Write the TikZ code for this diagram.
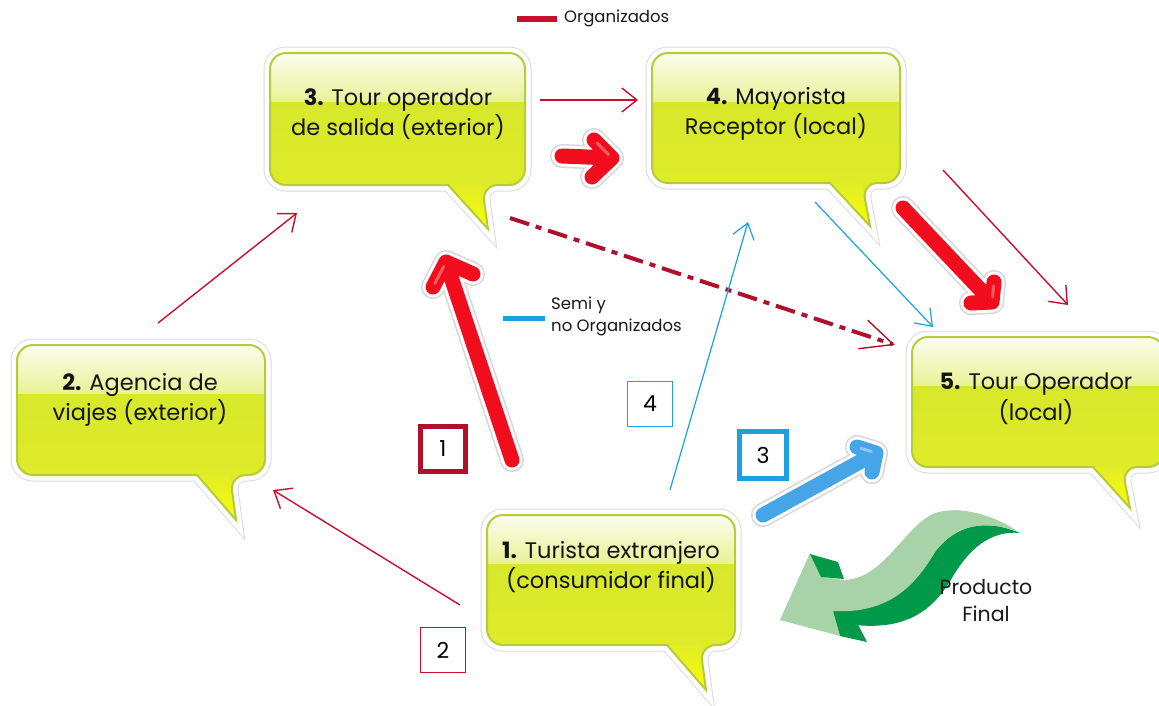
\documentclass[tikz,border=0pt]{standalone}
\usepackage{fontspec}
\setmainfont{Poppins}
\usetikzlibrary{arrows.meta}
\definecolor{orgred}{HTML}{C8102E}
\definecolor{ddred}{HTML}{B0102C}
\definecolor{semiblue}{HTML}{1BA1E2}
\definecolor{bred}{HTML}{F20D1E}
\definecolor{bredlight}{HTML}{FF9CA2}
\definecolor{bblue}{HTML}{45A5E6}
\definecolor{bbluelight}{HTML}{C5E8FB}
\definecolor{bodymid}{HTML}{D3E52E}
\definecolor{bodybot}{HTML}{E2ED26}
\definecolor{bborder}{HTML}{B4CC3C}
\definecolor{lgreen}{HTML}{A8D3A8}
\definecolor{dgreen}{HTML}{00994A}
\newcommand{\bubble}[8]{%
 \draw[line width=13pt, black!14, rounded corners=16pt] (#1,#2) -- (#3,#2) -- (#3,#4) -- (#6,#4) [sharp corners] -- (#7,#8) -- (#5,#4) [rounded corners=16pt] -- (#1,#4) -- cycle;
 \draw[line width=11pt, white, rounded corners=16pt] (#1,#2) -- (#3,#2) -- (#3,#4) -- (#6,#4) [sharp corners] -- (#7,#8) -- (#5,#4) [rounded corners=16pt] -- (#1,#4) -- cycle;
 \shade[top color=bodymid, bottom color=bodybot, rounded corners=16pt] (#1,#2) -- (#3,#2) -- (#3,#4) -- (#6,#4) [sharp corners] -- (#7,#8) -- (#5,#4) [rounded corners=16pt] -- (#1,#4) -- cycle;
 \shade[top color=bodybot, bottom color=yellow!85!bodybot] (#5,#4) -- (#6,#4) -- (#7,#8) -- cycle;
 \begin{scope}
 \clip[rounded corners=16pt] (#1,#2) -- (#3,#2) -- (#3,#4) -- (#1,#4) -- cycle;
 \shade[top color=white!92!bodymid, bottom color=white!50!bodymid] (#1,#2) rectangle (#3,{#2+0.37*(#4-#2)});
 \end{scope}
 \draw[line width=2pt, bborder, rounded corners=16pt] (#1,#2) -- (#3,#2) -- (#3,#4) -- (#6,#4) [sharp corners] -- (#7,#8) -- (#5,#4) [rounded corners=16pt] -- (#1,#4) -- cycle;
}
\newcommand{\garrow}[6]{%
 \draw[line width=24pt, black!16, line cap=round, line join=round] (#1) -- (#2) (#3) -- (#2) -- (#4);
 \draw[line width=21pt, white, line cap=round, line join=round] (#1) -- (#2) (#3) -- (#2) -- (#4);
 \draw[line width=15pt, #5, line cap=round, line join=round] (#1) -- (#2) (#3) -- (#2) -- (#4);
 \draw[line width=3pt, #6, opacity=0.55, line cap=round, shorten >=5pt, shorten <=4pt] (#3) -- (#2);
}
\tikzset{
 btext/.style={align=center, font=\fontsize{22.5}{30.5}\selectfont, text=black!92, inner sep=0pt},
 thinred/.style={orgred, line width=1.4pt, -{Straight Barb[length=15pt, width=24pt]}},
 thinblue/.style={semiblue, line width=1.2pt, -{Straight Barb[length=15pt, width=22pt]}},
 numbox/.style={draw, fill=white, minimum width=#1, minimum height=#1, font=\fontsize{22}{24}\selectfont, inner sep=0pt},
 legtext/.style={font=\fontsize{16.5}{22}\selectfont, text=black!90, align=left, inner sep=0pt, anchor=west}
}
\begin{document}
\begin{tikzpicture}[x=1pt, y=-1pt]
\useasboundingbox (0,0) rectangle (1159,705);
\fill[white] (0,0) rectangle (1159,705);

% speech bubbles
\bubble{270}{53}{525}{185}{448}{482}{488}{229}
\bubble{652}{53}{900}{183}{830}{862}{870}{226}
\bubble{912}{337}{1164}{467}{1093}{1122}{1130}{508}
\bubble{487}{515}{735}{645}{667}{700}{706}{690}
\bubble{17}{345}{265}{475}{197}{230}{236}{520}

\node[btext] (n3) at (398,114) {\textbf{3.} Tour operador\\de salida (exterior)};
\node[btext] (n4) at (776,114) {\textbf{4.} Mayorista\\Receptor (local)};
\node[btext] (n5) at (1036,399) {\textbf{5.} Tour Operador\\(local)};
\node[btext] (n1) at (611,567) {\textbf{1.} Turista extranjero\\(consumidor final)};
\node[btext] (n2) at (140,400) {\textbf{2.} Agencia de\\viajes (exterior)};

% legend
\coordinate (lr1) at (517,19);
\coordinate (lr2) at (557,19);
\draw[orgred, line width=6pt] (lr1) -- (lr2);
\node[legtext] (lorg) at (564,18) {Organizados};
\coordinate (lb1) at (503,318);
\coordinate (lb2) at (545,318);
\draw[semiblue, line width=5pt] (lb1) -- (lb2);
\node[legtext] (lsemi) at (551,316) {Semi y\\no Organizados};

% thin connectors
\coordinate (r1s) at (158,323); \coordinate (r1e) at (297,213);
\coordinate (r2s) at (460,605); \coordinate (r2e) at (273,490);
\coordinate (r3s) at (540,100); \coordinate (r3e) at (638,100);
\coordinate (r4s) at (943,170); \coordinate (r4e) at (1068,305);
\draw[thinred] (r1s) -- (r1e);
\draw[thinred] (r2s) -- (r2e);
\draw[thinred] (r3s) -- (r3e);
\draw[thinred] (r4s) -- (r4e);
\coordinate (dds) at (510,218); \coordinate (dde) at (895,345);
\draw[ddred, line width=4pt, dash pattern=on 20pt off 7pt on 6pt off 7pt, -{Straight Barb[length=32pt, width=30pt, line width=1.4pt]}] (dds) -- (dde);
\coordinate (b1s) at (670,490); \coordinate (b1e) at (748,222);
\coordinate (b2s) at (815,202); \coordinate (b2e) at (933,327);
\draw[thinblue] (b1s) -- (b1e);
\draw[thinblue] (b2s) -- (b2e);

% glossy arrows
\coordinate (ga1s) at (512,460); \coordinate (ga1t) at (446,262);
\coordinate (ga1a) at (433,287); \coordinate (ga1b) at (473,274);
\garrow{ga1s}{ga1t}{ga1a}{ga1b}{bred}{bredlight}
\coordinate (ga2s) at (562,156); \coordinate (ga2t) at (612,158);
\coordinate (ga2a) at (594,140); \coordinate (ga2b) at (592,177);
\garrow{ga2s}{ga2t}{ga2a}{ga2b}{bred}{bredlight}
\coordinate (ga3s) at (903,208); \coordinate (ga3t) at (992,302);
\coordinate (ga3a) at (994,282); \coordinate (ga3b) at (971,303);
\garrow{ga3s}{ga3t}{ga3a}{ga3b}{bred}{bredlight}
\coordinate (ga4s) at (763,515); \coordinate (ga4t) at (876,453);
\coordinate (ga4a) at (857,447); \coordinate (ga4b) at (872,472);
\garrow{ga4s}{ga4t}{ga4a}{ga4b}{bblue}{bbluelight}

% number boxes
\node[numbox=45pt, draw=ddred, line width=5pt] (k1) at (443,449) {1};
\node[numbox=45pt, draw=orgred, line width=1.3pt] (k2) at (443,650) {2};
\node[numbox=47pt, draw=semiblue, line width=5pt] (k3) at (763,455) {3};
\node[numbox=45pt, draw=semiblue, line width=1.3pt] (k4) at (650,404) {4};

% green curved arrow
\fill[dgreen] (1020,533) .. controls (990,530) and (968,550) .. (952,578) .. controls (932,612) and (905,630) .. (855,625) -- (832,609) .. controls (890,614) and (915,585) .. (935,552) .. controls (955,525) and (985,518) .. (1020,533) -- cycle;
\fill[dgreen] (832,609) -- (840,636) -- (867,642) -- (852,613) -- cycle;
\fill[lgreen] (1020,533) .. controls (995,515) and (960,505) .. (935,513) .. controls (905,525) and (885,578) .. (845,580) -- (822,577) -- (810,553) -- (780,620) -- (840,636) -- (833,611) .. controls (890,614) and (915,585) .. (935,552) .. controls (955,525) and (985,518) .. (1020,533) -- cycle;
\fill[dgreen] (810,554) -- (838,562) -- (844,579) -- (821,577) -- cycle;
\node[align=center, font=\fontsize{20.5}{27}\selectfont, text=black!90, inner sep=0pt] (pf) at (986,600) {Producto\\Final};
\end{tikzpicture}
\end{document}
